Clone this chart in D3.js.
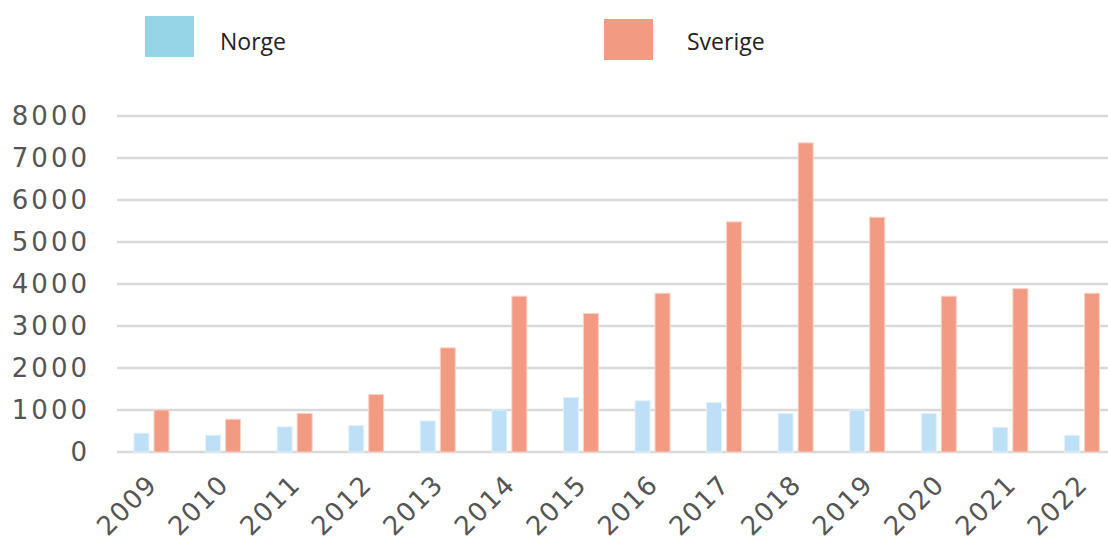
<!DOCTYPE html>
<html lang="en">
<head>
    <meta charset="UTF-8">
    <title>Norge vs Sverige</title>
    <script src="https://d3js.org/d3.v7.min.js"></script>
    <style>
        body { margin: 0; background: #fff; }
        .tick-label { font-family: "DejaVu Sans", sans-serif; font-size: 26px; fill: #555; letter-spacing: 1.5px; }
        .y-label { letter-spacing: 3px; }
        .legend-label { font-family: "Open Sans", sans-serif; font-size: 23px; fill: #222; }
    </style>
</head>
<body>
    <svg width="1108" height="543"></svg>

    <script>
        // Data
        const years = ["2009", "2010", "2011", "2012", "2013", "2014", "2015",
                       "2016", "2017", "2018", "2019", "2020", "2021", "2022"];
        const norge = [450, 400, 600, 630, 740, 1000, 1300, 1220, 1180, 920, 1000, 920, 590, 400];
        const sverige = [1000, 780, 920, 1370, 2480, 3710, 3300, 3780, 5480, 7360, 5590, 3710, 3890, 3780];
        const yTicks = [0, 1000, 2000, 3000, 4000, 5000, 6000, 7000, 8000];
        const seriesNames = ["Norge", "Sverige"];

        const data = years.map((y, i) => ({ year: y, Norge: norge[i], Sverige: sverige[i] }));

        const svg = d3.select("svg");

        // Scales
        const x = d3.scaleBand()
            .domain(years)
            .range([117, 1119]);

        const x1 = d3.scaleBand()
            .domain(seriesNames)
            .range([17, 52])
            .paddingInner(0.25);

        const y = d3.scaleLinear()
            .domain([0, 8000])
            .range([452, 116]);

        const barColor = { Norge: "#bde0f7", Sverige: "#f39a82" };
        const barStroke = { Norge: "#e4f2fb", Sverige: "#fbd3c7" };
        const legendColor = { Norge: "#96d4e8", Sverige: "#f39a82" };

        // Gridlines
        svg.append("g")
            .selectAll("line")
            .data(yTicks)
            .join("line")
            .attr("x1", 117)
            .attr("x2", 1108)
            .attr("y1", d => y(d))
            .attr("y2", d => y(d))
            .attr("stroke", "#d9d9d9")
            .attr("stroke-width", 2.5);

        // Y axis labels
        svg.append("g")
            .selectAll("text")
            .data(yTicks)
            .join("text")
            .attr("class", "tick-label y-label")
            .attr("x", 90)
            .attr("y", d => y(d))
            .attr("dy", "0.36em")
            .attr("text-anchor", "end")
            .text(d => d);

        // Bars
        const groups = svg.append("g")
            .selectAll("g")
            .data(data)
            .join("g")
            .attr("transform", d => `translate(${x(d.year)},0)`);

        groups.selectAll("rect")
            .data(d => seriesNames.map(k => ({ key: k, value: d[k] })))
            .join("rect")
            .attr("x", d => x1(d.key))
            .attr("width", x1.bandwidth())
            .attr("y", d => y(d.value))
            .attr("height", d => y(0) - y(d.value))
            .attr("fill", d => barColor[d.key])
            .attr("stroke", d => barStroke[d.key])
            .attr("stroke-width", 1);

        // X axis labels
        svg.append("g")
            .selectAll("text")
            .data(years)
            .join("text")
            .attr("class", "tick-label")
            .attr("text-anchor", "end")
            .attr("transform", d => `translate(${x(d) + x.bandwidth() / 2 + 6},${486}) rotate(-45)`)
            .text(d => d);

        // Legend
        const legend = svg.append("g");
        const legendPos = [
            { key: "Norge", sx: 145, sy: 16, tx: 220 },
            { key: "Sverige", sx: 604, sy: 19, tx: 687 }
        ];
        legendPos.forEach(p => {
            legend.append("rect")
                .attr("x", p.sx)
                .attr("y", p.sy)
                .attr("width", 49)
                .attr("height", 41)
                .attr("fill", legendColor[p.key]);
            legend.append("text")
                .attr("class", "legend-label")
                .attr("x", p.tx)
                .attr("y", 50)
                .text(p.key);
        });
    </script>
</body>
</html>
